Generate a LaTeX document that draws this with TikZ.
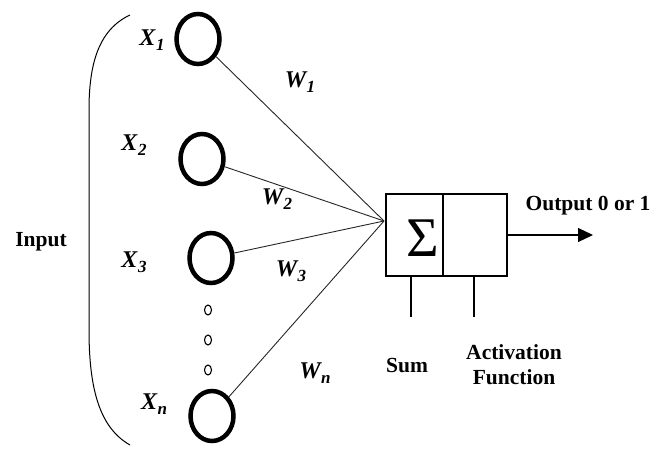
\documentclass[tikz,border=0pt]{standalone}
\usepackage{fontspec}
\setmainfont{Liberation Serif}
\usepackage{tikz}
\usetikzlibrary{shapes,arrows.meta,positioning}

% label with a lowered subscript, bold italic
\newcommand{\sublbl}[2]{\textbf{\textit{#1\kern0.5pt\raisebox{-0.45ex}{\fontsize{17}{17}\selectfont #2}}}}

\begin{document}
\begin{tikzpicture}[x=1pt,y=-1pt,
    neuron/.style={draw,ellipse,line width=4.5pt,minimum width=43pt,minimum height=50pt,inner sep=0pt},
    dotnode/.style={draw,ellipse,line width=1.1pt,minimum width=7pt,minimum height=10pt,inner sep=0pt},
    wire/.style={line width=0.9pt,black!85},
    txt/.style={font=\fontsize{21.5}{25}\selectfont\bfseries,align=center,inner sep=0pt},
    lbl/.style={font=\fontsize{24}{26}\selectfont,inner sep=0pt}]
    \useasboundingbox (0,0) rectangle (668,449);

    % input neurons
    \node[neuron] (x1) at (198,39) {};
    \node[neuron] (x2) at (202,159) {};
    \node[neuron] (x3) at (211,258) {};
    \node[neuron] (xn) at (212,416) {};
    \foreach \yy/\nm in {310/d1,340/d2,370/d3}
        \node[dotnode] (\nm) at (208,\yy) {};

    \node[lbl] (lx1) at (152,40) {\sublbl{X}{1}};
    \node[lbl] (lx2) at (134,145) {\sublbl{X}{2}};
    \node[lbl] (lx3) at (134,262) {\sublbl{X}{3}};
    \node[lbl] (lxn) at (154,404) {\sublbl{X}{n}};

    % bracket round the inputs
    \draw[line width=1pt] (130,15) .. controls (98,30) and (89,65) .. (89,110)
        -- (89,330) .. controls (89,390) and (100,428) .. (130,445);
    \node[txt] (input) at (41,242) {Input};

    % sum and activation box
    \coordinate (join) at (384,221);
    \draw[line width=1.3pt] (386,194) rectangle (507,276);
    \draw[line width=1.3pt] (443,194) -- (443,276);
    \node[inner sep=0pt,font=\fontsize{56}{56}\selectfont] (sigma) at (423,238) {Σ};

    \foreach \nm in {x1,x2,x3,xn}
        \draw[wire] (\nm) -- (join);

    \node[lbl] (w1) at (300,82) {\sublbl{W}{1}};
    \node[lbl] (w2) at (277,199) {\sublbl{W}{2}};
    \node[lbl] (w3) at (291,271) {\sublbl{W}{3}};
    \node[lbl] (wn) at (315,373) {\sublbl{W}{n}};

    % ticks below the box
    \coordinate (sumtop) at (411,276);
    \coordinate (acttop) at (474,276);
    \draw[line width=1.1pt] (sumtop) -- ++(0,41);
    \draw[line width=1.1pt] (acttop) -- ++(0,41);
    \node[txt] (sum) at (407,366) {Sum};
    \node[txt,text width=120pt] (act) at (514,365) {Activation\\Function};

    % output
    \coordinate (outstart) at (507,235);
    \coordinate (outend) at (593,235);
    \draw[line width=1.1pt,-{Triangle[length=15pt,width=14pt]}] (outstart) -- (outend);
    \node[txt] (out) at (588,206) {Output 0 or 1};
\end{tikzpicture}
\end{document}
